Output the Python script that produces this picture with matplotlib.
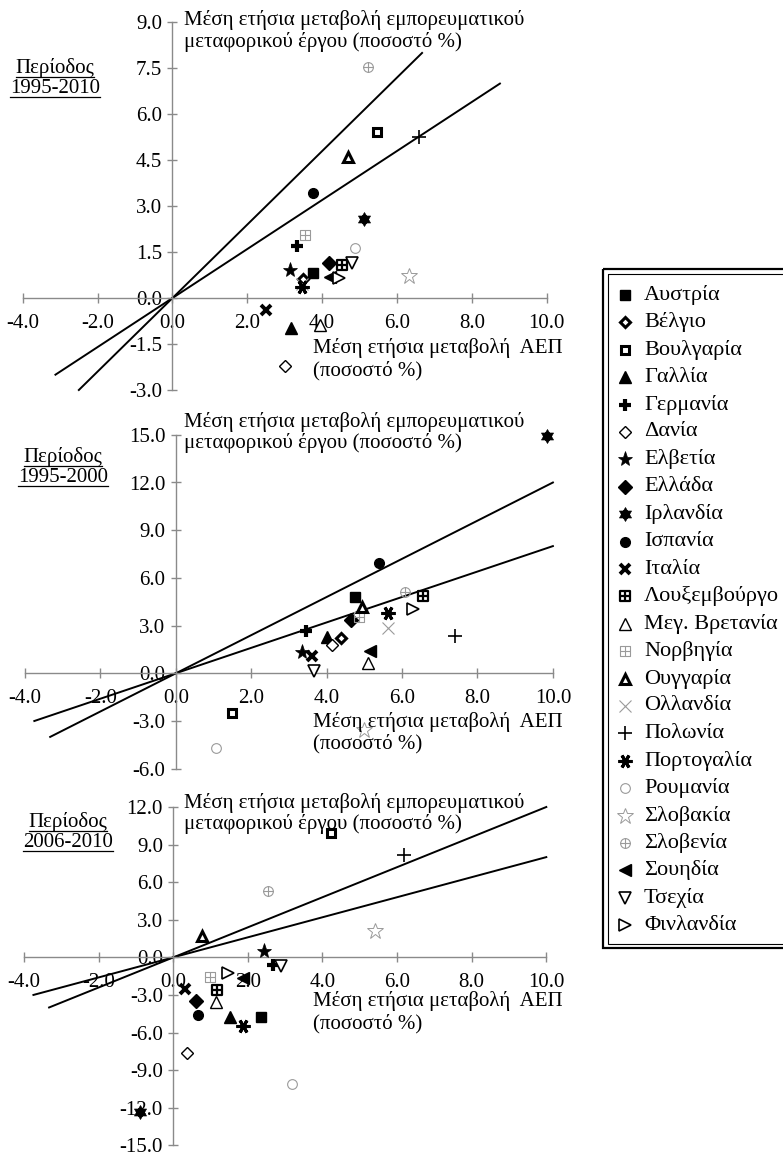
import numpy as np
import matplotlib
matplotlib.use("Agg")
import matplotlib.pyplot as plt
from matplotlib.path import Path
from matplotlib.ticker import FormatStrFormatter, FixedLocator
from matplotlib.patches import Rectangle

plt.rcParams['font.family'] = ['Liberation Serif', 'DejaVu Serif']
plt.rcParams['axes.unicode_minus'] = False

# ---------------- data ----------------
countries = ['Αυστρία', 'Βέλγιο', 'Βουλγαρία', 'Γαλλία', 'Γερμανία', 'Δανία',
             'Ελβετία', 'Ελλάδα', 'Ιρλανδία', 'Ισπανία', 'Ιταλία', 'Λουξεμβούργο',
             'Μεγ. Βρετανία', 'Νορβηγία', 'Ουγγαρία', 'Ολλανδία', 'Πολωνία',
             'Πορτογαλία', 'Ρουμανία', 'Σλοβακία', 'Σλοβενία', 'Σουηδία',
             'Τσεχία', 'Φινλανδία']

# Period 1995-2010
gdp_1995_2010 = [3.76, 3.48, 5.47, 3.17, 3.33, 3.02, 3.13, 4.19, 5.13, 3.75, 2.49, 4.53,
                 3.94, 3.55, 4.69, 3.45, 6.58, 3.45, 4.88, 6.33, 5.23, 4.20, 4.80, 4.44]
freight_1995_2010 = [0.83, 0.62, 5.41, -0.99, 1.70, -2.23, 0.91, 1.14, 2.57, 3.42, -0.40, 1.08,
                     -0.87, 2.06, 4.59, 0.45, 5.26, 0.36, 1.64, 0.71, 7.54, 0.69, 1.14, 0.64]

# Period 1995-2000
gdp_1995_2000 = [4.74, 4.38, 1.49, 4.02, 3.46, 4.15, 3.34, 4.65, 9.84, 5.39, 3.62, 6.55,
                 5.11, 4.86, 4.93, 5.62, 7.41, 5.62, 1.07, 4.98, 6.08, 5.15, 3.67, 6.30]
freight_1995_2000 = [4.82, 2.20, -2.52, 2.30, 2.68, 1.78, 1.36, 3.35, 14.94, 6.92, 1.09, 4.88,
                     0.67, 3.56, 4.19, 2.83, 2.35, 3.77, -4.72, -3.57, 5.13, 1.42, 0.17, 4.02]

# Period 2006-2010
gdp_2006_2010 = [2.34, np.nan, 4.23, 1.52, 2.66, 0.36, 2.44, 0.61, -0.90, 0.67, 0.31, 1.17,
                 1.14, 0.98, 0.78, np.nan, 6.19, 1.88, 3.19, 5.41, 2.53, 1.87, 2.90, 1.46]
freight_2006_2010 = [-4.74, np.nan, 9.95, -4.80, -0.58, -7.61, 0.50, -3.49, -12.32, -4.61, -2.54, -2.61,
                     -3.60, -1.55, 1.73, np.nan, 8.16, -5.48, -10.14, 2.13, 5.29, -1.68, -0.72, -1.24]

# reference lines (x range endpoints, y values)
ref_steep_1995_2010_x = [-2.5, 6.67]
ref_steep_1995_2010_y = [-3.0, 8.0]
ref_flat_1995_2010_x = [-3.125, 8.75]
ref_flat_1995_2010_y = [-2.5, 7.0]
ref_steep_x = [-3.33, 10.0]
ref_steep_y = [-4.0, 12.0]
ref_flat_x = [-3.75, 10.0]
ref_flat_y = [-3.0, 8.0]

x_ticks = [-4.0, -2.0, 0.0, 2.0, 4.0, 6.0, 8.0, 10.0]
y_ticks_1995_2010 = [-3.0, -1.5, 0.0, 1.5, 3.0, 4.5, 6.0, 7.5, 9.0]
y_ticks_1995_2000 = [-6.0, -3.0, 0.0, 3.0, 6.0, 9.0, 12.0, 15.0]
y_ticks_2006_2010 = [-15.0, -12.0, -9.0, -6.0, -3.0, 0.0, 3.0, 6.0, 9.0, 12.0]

periods = ['1995-2010', '1995-2000', '2006-2010']
ylabel_lines = ['Μέση ετήσια μεταβολή εμπορευματικού', 'μεταφορικού έργου (ποσοστό %)']
xlabel_lines = ['Μέση ετήσια μεταβολή  ΑΕΠ', '(ποσοστό %)']

# ---------------- styles ----------------
W, H = 783, 1155
fig = plt.figure(figsize=(W / 100, H / 100), dpi=100)

GRAY = '#9a9a9a'
AX_GRAY = '#8a8a8a'

sq_cross = Path([(-1, -1), (1, -1), (1, 1), (-1, 1), (-1, -1),
                 (0, -1), (0, 1), (-1, 0), (1, 0)],
                [Path.MOVETO, Path.LINETO, Path.LINETO, Path.LINETO, Path.CLOSEPOLY,
                 Path.MOVETO, Path.LINETO, Path.MOVETO, Path.LINETO])
circ = Path.unit_circle()
circ_plus = Path(np.concatenate([circ.vertices, [(0, -1), (0, 1), (-1, 0), (1, 0)]]),
                 np.concatenate([circ.codes, [Path.MOVETO, Path.LINETO, Path.MOVETO, Path.LINETO]]))
hexagram = Path([(0, 1), (-0.866, -0.5), (0.866, -0.5), (0, 1),
                 (0, -1), (0.866, 0.5), (-0.866, 0.5), (0, -1)],
                [Path.MOVETO, Path.LINETO, Path.LINETO, Path.CLOSEPOLY,
                 Path.MOVETO, Path.LINETO, Path.LINETO, Path.CLOSEPOLY])

styles = {
    'Αυστρία': dict(marker='s', ms=6.5, mfc='k', mec='k', mew=1),
    'Βέλγιο': dict(marker='D', ms=5.2, mfc='white', mec='k', mew=2.2),
    'Βουλγαρία': dict(marker='s', ms=6.3, mfc='white', mec='k', mew=2.2),
    'Γαλλία': dict(marker='^', ms=8, mfc='k', mec='k', mew=1),
    'Γερμανία': dict(marker='+', ms=9, mec='k', mew=3),
    'Δανία': dict(marker='D', ms=6, mfc='white', mec='k', mew=1),
    'Ελβετία': dict(marker='*', ms=11, mfc='k', mec='k', mew=0.5),
    'Ελλάδα': dict(marker='D', ms=7, mfc='k', mec='k', mew=1),
    'Ιρλανδία': dict(marker=hexagram, ms=10, mfc='k', mec='k', mew=0.5),
    'Ισπανία': dict(marker='o', ms=7, mfc='k', mec='k', mew=1),
    'Ιταλία': dict(marker='x', ms=7, mec='k', mew=2.8),
    'Λουξεμβούργο': dict(marker=sq_cross, ms=7, mfc='none', mec='k', mew=1.6),
    'Μεγ. Βρετανία': dict(marker='^', ms=8, mfc='white', mec='k', mew=1),
    'Νορβηγία': dict(marker=sq_cross, ms=7, mfc='none', mec=GRAY, mew=0.8),
    'Ουγγαρία': dict(marker='^', ms=7.5, mfc='white', mec='k', mew=2.2),
    'Ολλανδία': dict(marker='x', ms=8, mec=GRAY, mew=0.8),
    'Πολωνία': dict(marker='+', ms=10, mec='k', mew=1.2),
    'Πορτογαλία': dict(marker=(6, 2, 90), ms=10, mec='k', mew=2.2),
    'Ρουμανία': dict(marker='o', ms=7, mfc='white', mec=GRAY, mew=0.8),
    'Σλοβακία': dict(marker='*', ms=12, mfc='white', mec=GRAY, mew=0.7),
    'Σλοβενία': dict(marker=circ_plus, ms=7, mfc='none', mec=GRAY, mew=0.8),
    'Σουηδία': dict(marker='<', ms=8, mfc='k', mec='k', mew=1),
    'Τσεχία': dict(marker='v', ms=8, mfc='white', mec='k', mew=1.2),
    'Φινλανδία': dict(marker='>', ms=8, mfc='white', mec='k', mew=1.2),
}

# panel layout in pixels: (x px at -4, x px at 10, y px at ymax, y px at ymin)
panels = [
    dict(gdp=gdp_1995_2010, fr=freight_1995_2010, ylim=(-3, 9), yt=y_ticks_1995_2010,
         px=(22.7, 546.7, 22.3, 390.0),
         lines=[(ref_steep_1995_2010_x, ref_steep_1995_2010_y), (ref_flat_1995_2010_x, ref_flat_1995_2010_y)],
         ylab_y=20, xlab_y=348, per=(55, 68)),
    dict(gdp=gdp_1995_2000, fr=freight_1995_2000, ylim=(-6, 15), yt=y_ticks_1995_2000,
         px=(24.9, 552.9, 434.8, 768.7),
         lines=[(ref_steep_x, ref_steep_y), (ref_flat_x, ref_flat_y)],
         ylab_y=421.7, xlab_y=721.7, per=(63, 457)),
    dict(gdp=gdp_2006_2010, fr=freight_2006_2010, ylim=(-15, 12), yt=y_ticks_2006_2010,
         px=(24.1, 546.3, 807.0, 1145.3),
         lines=[(ref_steep_x, ref_steep_y), (ref_flat_x, ref_flat_y)],
         ylab_y=802.7, xlab_y=1001, per=(68, 822)),
]

FS = 15
LFS = 16
for p in panels:
    x0, x1, yt_px, yb_px = p['px']
    ax = fig.add_axes([x0 / W, 1 - yb_px / H, (x1 - x0) / W, (yb_px - yt_px) / H])
    ax.set_xlim(-4, 10)
    ax.set_ylim(*p['ylim'])
    ax.patch.set_visible(False)
    for s in ['top', 'right']:
        ax.spines[s].set_visible(False)
    for s in ['left', 'bottom']:
        ax.spines[s].set_position(('data', 0))
        ax.spines[s].set_color(AX_GRAY)
        ax.spines[s].set_linewidth(1.0)
    ax.xaxis.set_major_locator(FixedLocator(x_ticks))
    ax.yaxis.set_major_locator(FixedLocator(p['yt']))
    ax.xaxis.set_major_formatter(FormatStrFormatter('%.1f'))
    ax.yaxis.set_major_formatter(FormatStrFormatter('%.1f'))
    ax.tick_params(axis='both', direction='inout', length=7, width=1, color=AX_GRAY,
                   labelsize=FS, labelcolor='k')
    ax.tick_params(axis='x', pad=8)
    ax.tick_params(axis='y', pad=4)
    for lx, ly in p['lines']:
        ax.plot(lx, ly, color='k', lw=1.4, zorder=2, clip_on=False)
    for i, c in enumerate(countries):
        ax.plot([p['gdp'][i]], [p['fr'][i]], linestyle='none', clip_on=False, zorder=5, **styles[c])

# overlay in pixel coordinates for texts and legend
ov = fig.add_axes([0, 0, 1, 1], zorder=10)
ov.set_xlim(0, W)
ov.set_ylim(H, 0)
ov.axis('off')
ov.patch.set_visible(False)

renderer = fig.canvas.get_renderer()
for k, p in enumerate(panels):
    ov.text(184, p['ylab_y'], ylabel_lines[0], fontsize=FS, va='center', ha='left')
    ov.text(184, p['ylab_y'] + 21.5, ylabel_lines[1], fontsize=FS, va='center', ha='left')
    ov.text(313, p['xlab_y'], xlabel_lines[0], fontsize=FS, va='center', ha='left')
    ov.text(313, p['xlab_y'] + 22.5, xlabel_lines[1], fontsize=FS, va='center', ha='left')
    cx, cy = p['per']
    for j, s in enumerate(['Περίοδος', periods[k]]):
        yy = cy + j * 20.5
        t = ov.text(cx, yy, s, fontsize=FS, va='center', ha='center')
        bb = t.get_window_extent(renderer)
        inv = ov.transData.inverted()
        (bx0, _), (bx1, _) = inv.transform([(bb.x0, bb.y0), (bb.x1, bb.y1)])
        ov.plot([bx0, bx1], [yy + 8.5, yy + 8.5], color='k', lw=0.9)

# legend (box runs off the right edge of the picture, as in the reference)
lg_top, lg_step = 295, 27.4
ov.add_patch(Rectangle((603, 269), 200, 679, fill=False, ec='k', lw=1.6, clip_on=False))
ov.add_patch(Rectangle((607.5, 273.5), 195, 670, fill=False, ec='k', lw=0.8, clip_on=False))
for i, c in enumerate(countries):
    yy = lg_top + i * lg_step
    ov.plot([625], [yy], linestyle='none', **styles[c])
    ov.text(644, yy, c, fontsize=LFS, va='center', ha='left')

fig.savefig('out.png', dpi=100)
